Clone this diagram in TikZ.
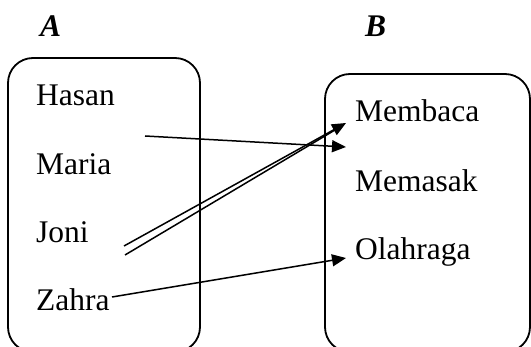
\documentclass[tikz,border=0pt]{standalone}
\usepackage{fontspec}
\setmainfont{Liberation Serif}
\usetikzlibrary{arrows.meta}
\begin{document}
\begin{tikzpicture}[x=1pt,y=-1pt,
  setbox/.style={draw,line width=1.8pt,rounded corners=25pt},
  item/.style={anchor=base west,inner sep=0pt,font=\fontsize{31.5}{36}\selectfont},
  title/.style={anchor=base west,inner sep=0pt,font=\fontsize{31.5}{36}\selectfont\bfseries\itshape},
  link/.style={line width=1.5pt,-{Triangle[length=14pt,width=12pt]}},
  plain/.style={line width=1.5pt}]
\useasboundingbox (0,0) rectangle (531,347);
\begin{scope}
\clip (0,0) rectangle (531,347);
% the two sets
\draw[setbox] (8,58) rectangle (200,352);
\draw[setbox] (325,74) rectangle (530,352);
\end{scope}
% set titles
\node[title] (ta) at (40,37) {A};
\node[title] (tb) at (365,37) {B};
% elements of A
\node[item] (hasan) at (36,106) {Hasan};
\node[item] (maria) at (36,175) {Maria};
\node[item] (joni)  at (36,243) {Joni};
\node[item] (zahra) at (36,311) {Zahra};
% elements of B
\node[item] (membaca) at (355,122) {Membaca};
\node[item] (memasak) at (355,192) {Memasak};
\node[item] (olahraga) at (355,260) {Olahraga};
% end points of the mapping arrows
\coordinate (s1) at (145,136);
\coordinate (t1) at (346,147);
\coordinate (s2) at (124,246);
\coordinate (s3) at (125,255);
\coordinate (t2) at (346,123);
\coordinate (t2b) at (340,127);
\coordinate (s4) at (112,297);
\coordinate (t4) at (346,258);
\draw[link] (s1) -- (t1);
\draw[link] (s2) -- (t2);
\draw[plain] (s3) -- (t2b);
\draw[link] (s4) -- (t4);
\end{tikzpicture}
\end{document}
